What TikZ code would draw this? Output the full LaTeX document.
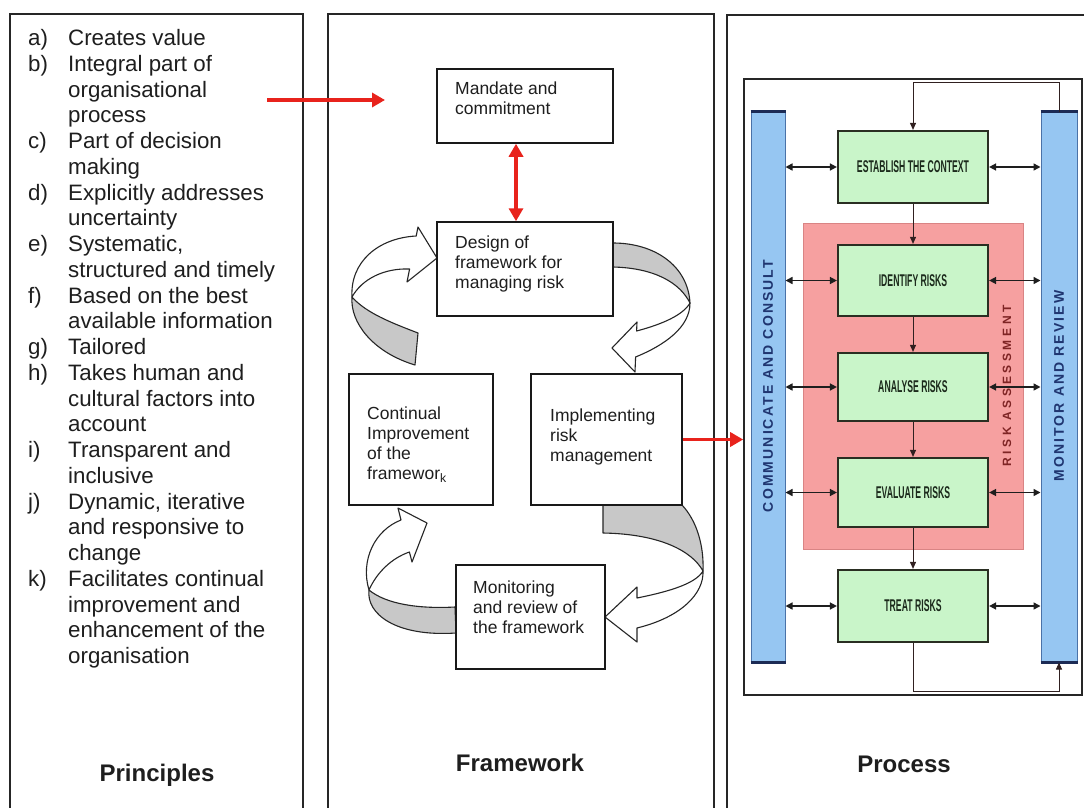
\documentclass[tikz,border=0pt]{standalone}
\usepackage{graphicx}
\usepackage{fontspec}
\setmainfont{Liberation Sans}
\newfontfamily\bandfont[LetterSpace=15]{Liberation Sans}
\newfontfamily\riskfont[LetterSpace=30]{Liberation Sans}
\usetikzlibrary{arrows.meta}

\definecolor{inkgray}{HTML}{1E1E1E}
\definecolor{redarrow}{HTML}{E8231C}
\definecolor{barblue}{HTML}{96C6F2}
\definecolor{baredge}{HTML}{4A72A8}
\definecolor{barnavy}{HTML}{1C2B55}
\definecolor{stepgreen}{HTML}{C9F5C9}
\definecolor{stepedge}{HTML}{2A2E22}
\definecolor{steptext}{HTML}{1C2A1C}
\definecolor{assesspink}{HTML}{F6A0A0}
\definecolor{assessedge}{HTML}{D98484}
\definecolor{ribbongray}{HTML}{C8C8C8}
\definecolor{navytext}{HTML}{1F3570}
\definecolor{maroontext}{HTML}{7E2424}
\definecolor{flowline}{HTML}{302020}

% text set in a top-aligned column, base = first line
\newcommand\fwlines[1]{\begin{tabular}[t]{@{}l@{}}#1\end{tabular}}
\newcommand\steplabel[1]{\scalebox{0.51}[1]{#1}}

\tikzset{
  panel/.style={draw=black!85, line width=1.6pt},
  fwbox/.style={rectangle, draw=black!90, line width=1.5pt, fill=white, inner sep=0pt},
  fwtext/.style={anchor=base west, inner sep=0pt, text=inkgray,
    font=\fontsize{17.5}{20.2}\selectfont},
  caption/.style={anchor=base, inner sep=0pt, text=inkgray,
    font=\fontsize{24}{28}\selectfont\bfseries},
  redlink/.style={draw=redarrow, line width=3.8pt},
  redtip/.tip={Triangle[length=13pt,width=14pt]},
  ribbonfront/.style={fill=white, draw=black!85, line width=1.1pt, line join=round},
  ribbonback/.style={fill=ribbongray, draw=black!85, line width=1.1pt, line join=round},
  bar/.style={rectangle, fill=barblue, draw=baredge, line width=1pt, inner sep=0pt},
  barcap/.style={draw=barnavy, line width=2.6pt},
  stepbox/.style={rectangle, fill=stepgreen, draw=stepedge, line width=2.2pt,
    minimum width=150pt, inner sep=0pt, text=steptext,
    font=\fontsize{17}{20}\selectfont\bfseries},
  sidelink/.style={draw=inkgray, line width=1.5pt,
    {Triangle[length=7pt,width=7pt]}-{Triangle[length=7pt,width=7pt]}},
  flow/.style={draw=flowline, line width=0.9pt, -{Triangle[length=7pt,width=6pt]}},
}

\begin{document}
\begin{tikzpicture}[x=1pt,y=-1pt]
\useasboundingbox (0,0) rectangle (1084,808);
\clip (0,0) rectangle (1084,808);
\fill[white] (0,0) rectangle (1084,808);

% ---------- three panels ----------
\draw[panel] (10,14) rectangle (303,840);
\draw[panel] (328,14) rectangle (714,840);
\draw[panel] (727,15) rectangle (1110,840);

% ---------- Principles ----------
\node[anchor=base west, inner sep=0pt, text=inkgray,
      font=\fontsize{22.3}{25.76}\selectfont] (plist) at (28,45.5) {%
\begin{tabular}[t]{@{}p{40pt}@{}l@{}}
a) & Creates value\\
b) & Integral part of\\
   & organisational\\
   & process\\
c) & Part of decision\\
   & making\\
d) & Explicitly addresses\\
   & uncertainty\\
e) & Systematic,\\
   & structured and timely\\
f) & Based on the best\\
   & available information\\
g) & Tailored\\
h) & Takes human and\\
   & cultural factors into\\
   & account\\
i) & Transparent and\\
   & inclusive\\
j) & Dynamic, iterative\\
   & and responsive to\\
   & change\\
k) & Facilitates continual\\
   & improvement and\\
   & enhancement of the\\
   & organisation
\end{tabular}};

\node[caption] (principles) at (157,781) {Principles};
\node[caption] (framework) at (520,771) {Framework};
\node[caption] (process) at (904,772) {Process};

% ---------- Framework: curved ribbon arrows ----------
% continual -> design
\draw[ribbonback] (418,333) .. controls (392,323) and (366,313) .. (352,297)
   .. controls (350,322) and (372,352) .. (415,365) -- cycle;
\draw[ribbonfront] (352,297) .. controls (350,262) and (378,238) .. (416.2,236)
   -- (418,227) -- (437,258) -- (407,282) -- (409.6,269)
   .. controls (384,268) and (362,279) .. (352,297) -- cycle;
% design -> implementing
\draw[ribbonback] (613,243) .. controls (655,243) and (688,266) .. (690,303)
   .. controls (680,283) and (655,268) .. (613,267) -- cycle;
\draw[ribbonfront] (690,303) .. controls (690,327) and (665,345) .. (635.6,357)
   -- (635,372) -- (612,348) -- (637,322) -- (636.6,331)
   .. controls (663,324) and (683,315) .. (690,303) -- cycle;
% implementing -> monitoring
\draw[ribbonback] (603,505) -- (682,505) .. controls (697,521) and (704,546) .. (703,571)
   .. controls (692,551) and (660,534) .. (603,533) -- cycle;
\draw[ribbonfront] (703,571) .. controls (704,593) and (682,617) .. (637,628)
   -- (637,642) -- (605,617) -- (637,587) -- (637,598)
   .. controls (672,591) and (696,583) .. (703,571) -- cycle;
% monitoring -> continual
\draw[ribbonback] (455,607) .. controls (418,609) and (386,604) .. (369,590)
   .. controls (366,614) and (396,637) .. (456,633) -- cycle;
\draw[ribbonfront] (369,590) .. controls (360,560) and (375,530) .. (401,520)
   -- (398,508) -- (427,523) -- (412,562) -- (409.4,552)
   .. controls (392,558) and (377,572) .. (369,590) -- cycle;

% ---------- Framework: boxes ----------
\node[fwbox, minimum width=176pt, minimum height=74pt] (mandate) at (525,106) {};
\node[fwbox, minimum width=176pt, minimum height=94pt] (design) at (525,269) {};
\node[fwbox, minimum width=144pt, minimum height=131pt] (continual) at (421,439.5) {};
\node[fwbox, minimum width=151pt, minimum height=131pt] (implement) at (606.5,439.5) {};
\node[fwbox, minimum width=149pt, minimum height=104pt] (monitoring) at (530.5,617) {};

\node[fwtext] (mandatetext) at (455,94) {\fwlines{Mandate and\\commitment}};
\node[fwtext] (designtext) at (455,248) {\fwlines{Design of\\framework for\\managing risk}};
\node[fwtext] (continualtext) at (367,419) {\fwlines{Continual\\Improvement\\of the\\framewor\textsubscript{k}}};
\node[fwtext] (implementtext) at (550,421) {\fwlines{Implementing\\risk\\management}};
\node[fwtext] (monitoringtext) at (473,593) {\fwlines{Monitoring\\and review of\\the framework}};

% ---------- Process ----------
\node[rectangle, draw=black!85, line width=1.6pt, fill=white, inner sep=0pt,
      minimum width=338pt, minimum height=616pt] (processbox) at (913,387) {};
\node[rectangle, fill=assesspink, draw=assessedge, line width=1pt, inner sep=0pt,
      minimum width=220pt, minimum height=326pt] (assessment) at (913,386) {};
\node[bar, minimum width=34pt, minimum height=550pt] (consult) at (768,387) {};
\node[bar, minimum width=36pt, minimum height=550pt] (monitor) at (1059,387) {};
\draw[barcap] (consult.north west) -- (consult.north east);
\draw[barcap] (consult.south west) -- (consult.south east);
\draw[barcap] (monitor.north west) -- (monitor.north east);
\draw[barcap] (monitor.south west) -- (monitor.south east);

\node[rotate=90, inner sep=0pt, text=navytext,
      font=\bandfont\bfseries\fontsize{14}{16}\selectfont] (consulttext) at (768,386)
      {COMMUNICATE AND CONSULT};
\node[rotate=90, inner sep=0pt, text=navytext,
      font=\bandfont\bfseries\fontsize{14}{16}\selectfont] (monitortext) at (1059,386)
      {MONITOR AND REVIEW};
\node[rotate=90, inner sep=0pt, text=maroontext,
      font=\riskfont\bfseries\fontsize{12}{14}\selectfont] (assesstext) at (1007,386)
      {RISK ASSESSMENT};

\node[stepbox, minimum height=72pt] (establish) at (913,167) {\steplabel{ESTABLISH THE CONTEXT}};
\node[stepbox, minimum height=71pt] (identify) at (913,280.5) {\steplabel{IDENTIFY RISKS}};
\node[stepbox, minimum height=68pt] (analyse) at (913,387) {\steplabel{ANALYSE RISKS}};
\node[stepbox, minimum height=69pt] (evaluate) at (913,492.5) {\steplabel{EVALUATE RISKS}};
\node[stepbox, minimum height=72pt] (treat) at (913,606) {\steplabel{TREAT RISKS}};

\draw[flow] (establish.south) -- (identify.north);
\draw[flow] (identify.south) -- (analyse.north);
\draw[flow] (analyse.south) -- (evaluate.north);
\draw[flow] (evaluate.south) -- (treat.north);
\draw[flow] (monitor.north) -- ++(0,-29) -| (establish.north);
\draw[flow] (treat.south) -- ++(0,48) -| (monitor.south);

\foreach \s in {establish,identify,analyse,evaluate,treat}{
  \draw[sidelink] (consult.east |- \s.west) -- (\s.west);
  \draw[sidelink] (\s.east) -- (monitor.west |- \s.east);
}

% ---------- red links between the panels ----------
\coordinate (principlesout) at (267,100);
\coordinate (mandatein) at (385,100);
\draw[redlink, -redtip] (principlesout) -- (mandatein);
\draw[redlink, redtip-redtip] ([xshift=-9pt]mandate.south) -- ([xshift=-9pt]design.north);
\draw[redlink, -redtip] (implement.east) -- (implement.east -| processbox.west);
\end{tikzpicture}
\end{document}
